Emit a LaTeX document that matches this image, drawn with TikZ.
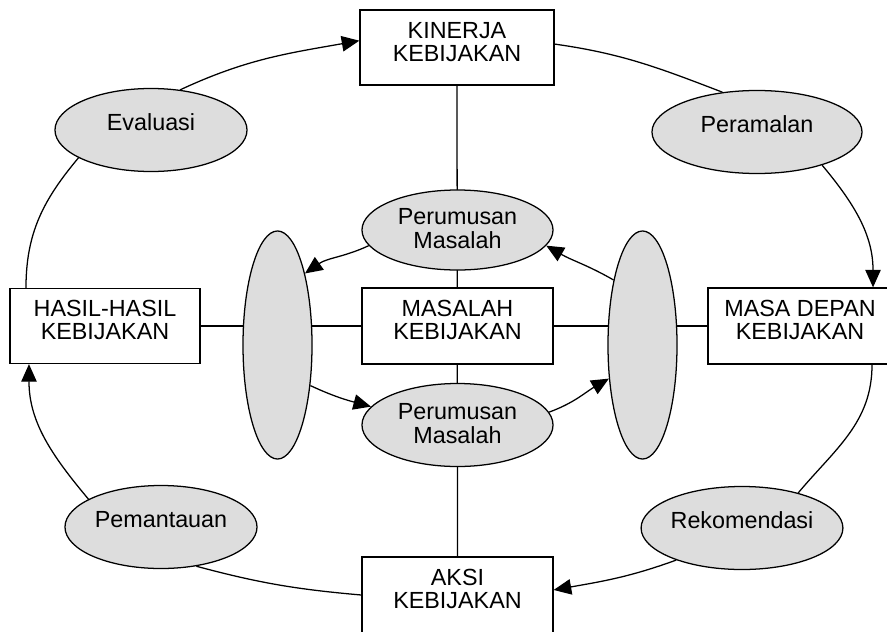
\documentclass[tikz,border=0pt]{standalone}
\usepackage{fontspec}
\setmainfont{Liberation Sans}
\usetikzlibrary{arrows.meta, shapes.geometric, backgrounds}
\definecolor{cfill}{HTML}{DDDDDD}
\tikzset{
  every picture/.style={line width=0.9pt, x=0.025cm, y=0.025cm},
  box/.style={draw, fill=white, rectangle, align=center, inner sep=0pt,
    minimum width=4.775cm, minimum height=1.9cm, text height=28.5pt, text depth=8.6pt},
  oval/.style={draw, fill=cfill, ellipse, align=center, inner sep=0pt,
    minimum width=4.8cm, minimum height=2.075cm},
  single/.style={text height=12pt, text depth=12pt},
  link/.style={line width=0.9pt},
  arrow/.style={-{Triangle[length=12.5pt, width=11pt]}},
}

\begin{document}
\begin{tikzpicture}[every node/.append style={font=\fontsize{16.6pt}{16.6pt}\selectfont}]
  \useasboundingbox (0,0) rectangle (887,-631);
  % boxes
  \node[box, minimum width=4.85cm, minimum height=1.875cm] (kin) at (457,-47.5) {KINERJA\\KEBIJAKAN};
  \node[box, minimum width=4.75cm, minimum height=1.875cm] (has) at (105,-326) {HASIL-HASIL\\KEBIJAKAN};
  \node[box] (mas) at (457.5,-326) {MASALAH\\KEBIJAKAN};
  \node[box, minimum width=4.6cm] (msd) at (800,-326) {MASA DEPAN\\KEBIJAKAN};
  \node[box] (aks) at (457.5,-595) {AKSI\\KEBIJAKAN};
  % ovals
  \node[oval, single] (ev) at (151,-130) {Evaluasi};
  \node[oval, single, minimum width=5.25cm] (pr) at (757,-132) {Peramalan};
  \node[oval, single, minimum width=4.75cm] (rk) at (742,-528) {Rekomendasi};
  \node[oval, single] (pm) at (161,-527) {Pemantauan};
  \node[oval, minimum width=4.775cm, minimum height=2cm, text depth=2pt] (pt) at (457.5,-230) {Perumusan\\Masalah};
  \node[oval, minimum width=4.775cm, text depth=2pt] (pb) at (457.5,-425) {Perumusan\\Masalah};
  \node[oval, minimum width=1.725cm, minimum height=5.7cm] (le) at (277.5,-345) {};
  \node[oval, minimum width=1.725cm, minimum height=5.7cm] (ri) at (642.5,-345) {};
  % straight links
  \begin{scope}[on background layer]
    \draw[link] (kin) -- (aks);
    \draw[link] (has) -- (msd);
  \end{scope}
  % outer cycle
  \draw[arrow] (ev.54) to[out=25, in=190] (kin.176);
  \draw (kin.2) to[out=-8, in=159] (pr.131);
  \draw[arrow] (pr.-27) to[out=-50, in=90] ([xshift=1.825cm]msd.north);
  \draw ([xshift=1.8cm]msd.south) to[out=-90, in=50] (rk.32);
  \draw[arrow] (rk.206) to[out=200, in=10] (aks.3);
  \draw (aks.west) to[out=175, in=-15] (pm.-48);
  \draw[arrow] (pm.159) to[out=130, in=-90] ([xshift=-1.9cm]has.south);
  \draw ([xshift=-1.975cm]has.north) to[out=90, in=230] (ev.201);
  % inner cycle
  \draw[arrow] (pt.190) to[out=205, in=35] (le.69);
  \draw[arrow] (ri.114) to[out=150, in=-30] (pt.-10);
  \draw[arrow] (le.-51) to[out=-25, in=165] (pb.168);
  \draw[arrow] (pb.8) to[out=20, in=210] (ri.225);
\end{tikzpicture}
\end{document}
